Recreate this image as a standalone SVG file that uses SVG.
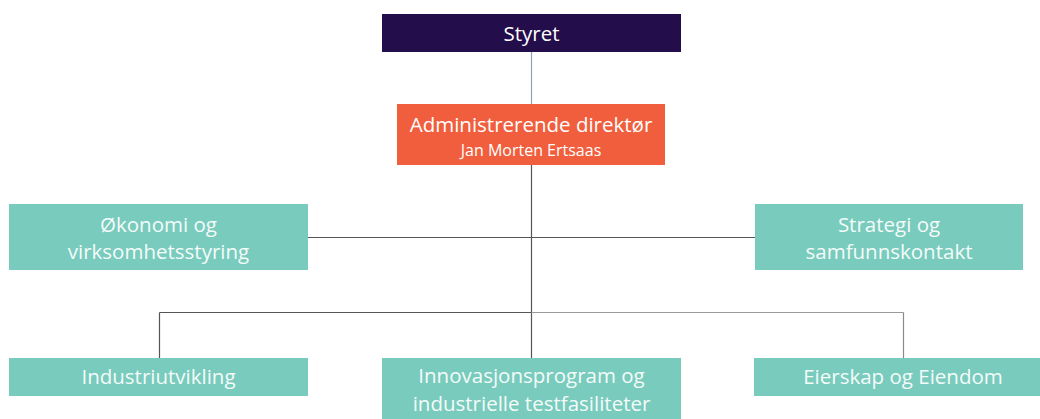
<svg xmlns="http://www.w3.org/2000/svg" width="1040" height="419" viewBox="0 0 1040 419">
<style>
.box{fill:#79cbbd}
.t{font-family:"Open Sans","Liberation Sans",sans-serif;fill:#f4fbf9;text-anchor:middle;font-size:20.5px}
.s{font-size:16px}
.w{fill:#ffffff}
.ln{stroke:#555555;stroke-width:1.2;fill:none}
</style>
<rect width="1040" height="419" fill="#ffffff"/>
<g id="connectors">
<line x1="531.5" y1="52" x2="531.5" y2="104" stroke="#8ea2b8" stroke-width="1.2"/>
<line class="ln" x1="531.5" y1="165" x2="531.5" y2="358"/>
<line class="ln" x1="308" y1="237.5" x2="755" y2="237.5"/>
<line class="ln" x1="159.5" y1="312.5" x2="531.5" y2="312.5"/>
<line x1="531.5" y1="312.5" x2="903.5" y2="312.5" stroke="#9a9a9a" stroke-width="1.2"/>
<line class="ln" x1="159.5" y1="312.5" x2="159.5" y2="358"/>
<line x1="903.5" y1="312.5" x2="903.5" y2="358" stroke="#8a8a8a" stroke-width="1.2"/>
</g>
<g id="styret">
<rect x="382" y="14" width="299" height="38" fill="#230d4a"/>
<text class="t w" x="531.5" y="41">Styret</text>
</g>
<g id="direktor">
<rect x="397" y="104" width="268" height="61" fill="#f05e3d"/>
<text class="t w" x="531" y="132">Administrerende direktør</text>
<text class="t s w" x="531" y="155.5">Jan Morten Ertsaas</text>
</g>
<g id="okonomi">
<rect class="box" x="9" y="204" width="299" height="66"/>
<text class="t" x="158.5" y="232">Økonomi og</text>
<text class="t" x="158.5" y="258.5">virksomhetsstyring</text>
</g>
<g id="strategi">
<rect class="box" x="755" y="204" width="268" height="66"/>
<text class="t" x="889" y="232">Strategi og</text>
<text class="t" x="889" y="258.5">samfunnskontakt</text>
</g>
<g id="industri">
<rect class="box" x="9" y="358" width="299" height="38"/>
<text class="t" x="158.5" y="384">Industriutvikling</text>
</g>
<g id="innovasjon">
<rect class="box" x="382" y="358" width="299" height="61"/>
<text class="t" x="531.5" y="383">Innovasjonsprogram og</text>
<text class="t" x="531.5" y="410.5">industrielle testfasiliteter</text>
</g>
<g id="eierskap">
<rect class="box" x="754" y="358" width="286" height="38"/>
<text class="t" x="903" y="384">Eierskap og Eiendom</text>
</g>
</svg>
